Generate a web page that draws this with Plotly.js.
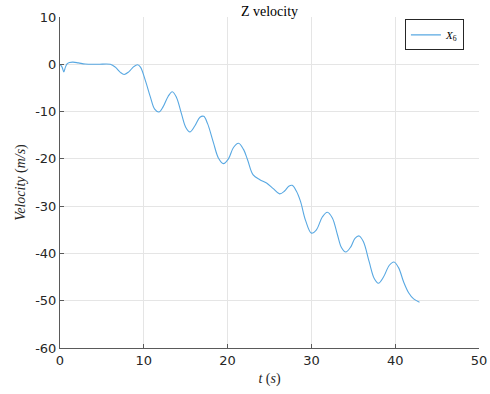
<!DOCTYPE html>
<html>
<head>
<meta charset="utf-8">
<script src="https://cdn.plot.ly/plotly-3.0.1.min.js"></script>
<style>
  html, body { margin: 0; padding: 0; background: #fff; }
  #chart { width: 490px; height: 394px; }
</style>
</head>
<body>
<div id="chart"></div>
<script>
// Time samples (s) of the Z velocity trace
const timeS = [
  0, 0.25, 0.45, 0.65, 0.9, 1.5, 2.2, 3.0, 4.5, 6.0,
  6.6, 7.2, 7.65, 8.2, 8.8, 9.25, 9.6, 10.2, 10.8, 11.3,
  11.8, 12.3, 12.9, 13.4, 13.9, 14.5, 15.0, 15.5, 16.1, 16.7,
  17.15, 17.6, 18.3, 18.9, 19.5, 20.1, 20.7, 21.3, 21.9, 22.4,
  23.05, 23.85, 24.65, 25.45, 26.2, 26.8, 27.3, 27.7, 28.2, 28.7,
  29.3, 30.0, 30.6, 31.3, 31.9, 32.5, 33.1, 33.6, 34.1, 34.7,
  35.2, 35.7, 36.2, 36.9, 37.5, 38.0, 38.6, 39.3, 39.85, 40.4,
  41.0, 41.6, 42.2, 42.9
];

// Z velocity (m/s), series X6
const velocityX6 = [
  0, -0.6, -1.6, -0.6, 0.2, 0.45, 0.3, 0.05, 0, 0,
  -0.6, -1.7, -2.15, -1.6, -0.5, -0.1, -0.6, -3.5, -7.0, -9.5,
  -10.1, -9.0, -6.8, -5.8, -7.0, -10.5, -13.3, -14.3, -13.0, -11.2,
  -11.0, -12.5, -16.5, -19.8, -21.0, -20.0, -17.6, -16.7, -18.0, -20.3,
  -23.4, -24.4, -25.1, -26.3, -27.4, -26.8, -25.8, -25.6, -26.8, -29.0,
  -33.0, -35.7, -35.0, -32.3, -31.3, -32.5, -36.0, -38.8, -39.7, -38.6,
  -36.8, -36.3, -37.5, -41.8, -45.3, -46.3, -45.0, -42.5, -41.8, -43.0,
  -46.0, -48.3, -49.6, -50.3
];

const xTicks = [0, 10, 20, 30, 40, 50];
const yTicks = [10, 0, -10, -20, -30, -40, -50, -60];

const serif = '"Liberation Serif", "DejaVu Serif", serif';
const sans = '"DejaVu Sans", sans-serif';

const trace = {
  x: timeS,
  y: velocityX6,
  type: 'scatter',
  mode: 'lines',
  name: '<i>X</i><sub>6</sub>',
  line: { color: 'rgb(88,168,226)', width: 1.1, shape: 'spline', smoothing: 1 }
};

const axisCommon = {
  showgrid: true,
  gridcolor: '#e5e5e5',
  gridwidth: 1,
  zeroline: false,
  showline: true,
  linecolor: '#5a5a5a',
  linewidth: 1,
  ticks: 'inside',
  ticklen: 4,
  tickcolor: '#5a5a5a',
  tickfont: { family: sans, size: 13, color: '#262626' },
  mirror: false
};

const layout = {
  width: 490,
  height: 394,
  margin: { l: 60, r: 11, t: 17, b: 46 },
  paper_bgcolor: '#ffffff',
  plot_bgcolor: '#ffffff',
  showlegend: true,
  title: {
    text: 'Z velocity',
    font: { family: serif, size: 14, color: '#000' },
    x: 0.55, xanchor: 'center',
    y: 0.985, yanchor: 'top'
  },
  xaxis: Object.assign({}, axisCommon, {
    range: [0, 50],
    tickvals: xTicks,
    ticktext: xTicks.map(String),
    title: { text: '<i>t</i> (<i>s</i>)', font: { family: serif, size: 14, color: '#262626' }, standoff: 6 }
  }),
  yaxis: Object.assign({}, axisCommon, {
    range: [-60, 10],
    tickvals: yTicks,
    ticktext: yTicks.map(String),
    title: { text: '<i>Velocity</i> (<i>m/s</i>)', font: { family: serif, size: 14, color: '#262626' }, standoff: 6 }
  }),
  legend: {
    x: 0.964, xanchor: 'right',
    y: 0.946, yanchor: 'middle',
    bgcolor: '#ffffff',
    bordercolor: '#262626',
    borderwidth: 1,
    font: { family: serif, size: 11, color: '#000' },
    itemwidth: 30,
    tracegroupgap: 0
  }
};

Plotly.newPlot('chart', [trace], layout, { displayModeBar: false, staticPlot: true });
</script>
</body>
</html>
